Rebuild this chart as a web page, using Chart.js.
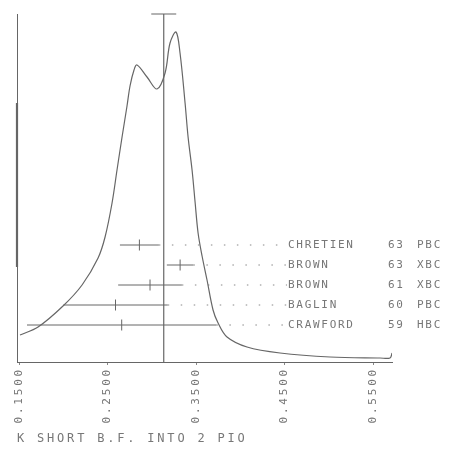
<!DOCTYPE html>
<html>
<head>
<meta charset="utf-8">
<script src="https://cdn.jsdelivr.net/npm/chart.js@4.4.1/dist/chart.umd.min.js"></script>
<style>
  html, body { margin: 0; padding: 0; background: #fff; }
  #wrap { width: 461px; height: 450px; }
</style>
</head>
<body>
<div id="wrap"><canvas id="myChart"></canvas></div>
<script>
// ideogram curve
const curveX = [0.1511, 0.1715, 0.1997, 0.2212, 0.2393, 0.2472, 0.2551, 0.2607, 0.2664, 0.2720,
    0.2754, 0.2799, 0.2833, 0.2946, 0.3059, 0.3150, 0.3206, 0.3274, 0.3319, 0.3376,
    0.3410, 0.3455, 0.3489, 0.3523, 0.3568, 0.3624, 0.3692, 0.3749, 0.3850, 0.4076,
    0.4449, 0.5014, 0.5579, 0.5692, 0.5715];
const curveY = [2.7, 3.5, 5.6, 7.7, 10.4, 12.5, 15.9, 19.2, 22.5, 25.6,
    27.6, 29.2, 29.7, 28.5, 27.3, 28.9, 31.9, 33.0, 30.9, 25.9,
    22.5, 19.2, 16.0, 12.9, 10.6, 8.2, 5.2, 3.9, 2.5, 1.5,
    0.9, 0.5, 0.4, 0.4, 0.9];

// measurements
const experiments = ["CHRETIEN", "BROWN", "BROWN", "BAGLIN", "CRAWFORD"];
const years = ["63", "63", "61", "60", "59"];
const techniques = ["PBC", "XBC", "XBC", "PBC", "HBC"];
const values = [0.286, 0.332, 0.298, 0.259, 0.266];
const errors = [0.022, 0.015, 0.036, 0.059, 0.107];
const rowY = [11.7, 9.7, 7.7, 5.7, 3.7];

// weighted mean
const mean = 0.3135;
const meanErr = 0.0141;
const topY = 34.8;

// heavier stretch of the left edge line
const edgeY = [25.9, 9.5];

const tickValues = [0.15, 0.25, 0.35, 0.45, 0.55];
const labelX = 0.4528; // where the leader dots stop and the names start

const lineGray = "#666";
const textGray = "#777";

const curve = curveX.map((x, i) => ({ x: x, y: curveY[i] }));

const bars = [];
const marks = [];
const leaders = [];
values.forEach((v, i) => {
    bars.push({ x: v - errors[i], y: rowY[i] }, { x: v + errors[i], y: rowY[i] }, { x: v, y: null });
    marks.push({ x: v, y: rowY[i] - 0.55 }, { x: v, y: rowY[i] + 0.55 }, { x: v, y: null });
    leaders.push({ x: v + errors[i], y: rowY[i] }, { x: labelX, y: rowY[i] }, { x: labelX, y: null });
});

const meanLine = [
    { x: mean, y: 0 }, { x: mean, y: topY },
    { x: mean - meanErr, y: topY }, { x: mean + meanErr, y: topY }
];

// wider letter spacing, like the old plotter lettering
const spacing = {
    id: "spacing",
    beforeDraw(chart) {
        chart.ctx.letterSpacing = "2.8px";
    }
};

// names, years and techniques next to the error bars
const sideLabels = {
    id: "sideLabels",
    afterDraw(chart) {
        const ctx = chart.ctx;
        const x = chart.scales.x;
        const y = chart.scales.y;
        ctx.save();
        ctx.letterSpacing = "1.7px";
        ctx.font = '11px "DejaVu Sans Mono"';
        ctx.fillStyle = textGray;
        ctx.textBaseline = "middle";
        ctx.textAlign = "left";
        const x0 = x.getPixelForValue(labelX) + 1;
        experiments.forEach((name, i) => {
            const py = y.getPixelForValue(rowY[i]);
            ctx.fillText(name, x0, py);
            ctx.fillText(years[i], x0 + 100, py);
            ctx.fillText(techniques[i], x0 + 129, py);
        });
        ctx.restore();
    }
};

const ctx = document.getElementById("myChart").getContext("2d");
const myChart = new Chart(ctx, {
    type: "scatter",
    data: {
        datasets: [
            { data: curve, showLine: true, borderColor: lineGray, borderWidth: 1.2, pointRadius: 0, tension: 0.35 },
            { data: meanLine, showLine: true, borderColor: lineGray, borderWidth: 1.2, pointRadius: 0, clip: false },
            { data: bars, showLine: true, borderColor: lineGray, borderWidth: 1, pointRadius: 0 },
            { data: marks, showLine: true, borderColor: lineGray, borderWidth: 1, pointRadius: 0 },
            { data: leaders, showLine: true, borderColor: "#888", borderWidth: 1, borderDash: [1.5, 11.5], pointRadius: 0 },
            { data: edgeY.map((v) => ({ x: 0.1477, y: v })), showLine: true, borderColor: lineGray, borderWidth: 2.2, pointRadius: 0, clip: false },
        ],
    },
    options: {
        responsive: true,
        maintainAspectRatio: false,
        animation: false,
        events: [],
        layout: { padding: { left: 17, right: 69, top: 14, bottom: 0 } },
        plugins: {
            legend: { display: false },
            tooltip: { enabled: false },
            title: {
                display: true,
                text: "K SHORT B.F. INTO 2 PIO",
                position: "bottom",
                align: "start",
                color: textGray,
                font: { family: "DejaVu Sans Mono", size: 12, weight: "normal" },
                padding: { top: 4, bottom: 4 }
            }
        },
        scales: {
            x: {
                type: "linear",
                min: 0.1477,
                max: 0.5714,
                afterBuildTicks: (s) => { s.ticks = tickValues.map((v) => ({ value: v })); },
                afterFit: (s) => { s.height = 65.6; },
                grid: { display: true, drawOnChartArea: false, tickLength: 3, color: "#888" },
                border: { color: lineGray },
                ticks: {
                    autoSkip: false,
                    minRotation: 90,
                    maxRotation: 90,
                    padding: 2,
                    color: textGray,
                    font: { family: "DejaVu Sans Mono", size: 11 },
                    callback: (v) => Number(v).toFixed(4)
                }
            },
            y: {
                min: 0,
                max: topY,
                afterFit: (s) => { s.width = 0; },
                ticks: { display: false },
                grid: { display: false },
                border: { color: lineGray }
            }
        }
    },
    plugins: [spacing, sideLabels]
});
</script>
</body>
</html>
